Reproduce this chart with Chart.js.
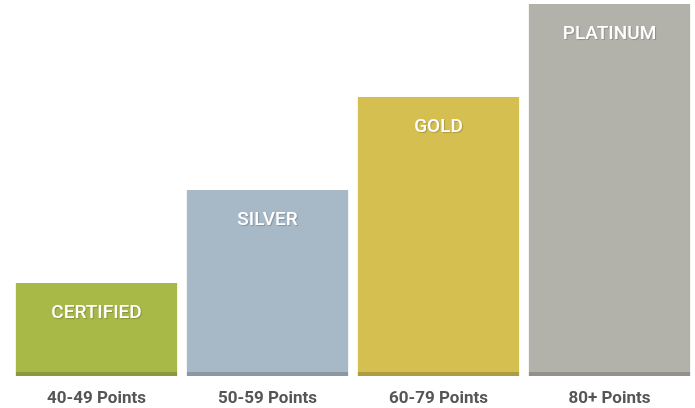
<!DOCTYPE html>
<html>
<head>
<meta charset="utf-8">
<script src="https://cdn.jsdelivr.net/npm/chart.js@4"></script>
<style>
  html, body { margin: 0; padding: 0; background: #fff; }
</style>
</head>
<body>
<canvas id="tierChart" width="695" height="408"></canvas>
<script>
var categories = ["40-49 Points", "50-59 Points", "60-79 Points", "80+ Points"];
var tierNames = ["CERTIFIED", "SILVER", "GOLD", "PLATINUM"];
var tierLevels = [1, 2, 3, 4];
var barColors = ["#a9b947", "#a7b8c6", "#d5bf51", "#b3b2aa"];
var edgeColors = ["#8b993a", "#8a98a4", "#ae9c42", "#92918b"];

// white tier names inside the top of each bar
var tierLabels = {
  id: "tierLabels",
  afterDatasetsDraw: function (chart) {
    var ctx = chart.ctx;
    var meta = chart.getDatasetMeta(0);
    ctx.save();
    ctx.font = "500 19px Roboto, sans-serif";
    ctx.textAlign = "center";
    ctx.textBaseline = "middle";
    ctx.shadowColor = "rgba(0,0,0,0.2)";
    ctx.shadowOffsetX = 1;
    ctx.shadowOffsetY = 1;
    ctx.shadowBlur = 1;
    ctx.fillStyle = "#ffffff";
    meta.data.forEach(function (bar, i) {
      ctx.fillText(tierNames[i], bar.x, bar.y + 30);
    });
    ctx.restore();
  },
};

var ctx = document.getElementById("tierChart").getContext("2d");
var myChart = new Chart(ctx, {
  type: "bar",
  data: {
    labels: categories,
    datasets: [
      {
        data: tierLevels,
        backgroundColor: barColors,
        borderColor: edgeColors,
        borderWidth: { top: 0, left: 0, right: 0, bottom: 4 },
        borderSkipped: false,
        barPercentage: 0.946,
        categoryPercentage: 1,
      },
    ],
  },
  options: {
    responsive: false,
    animation: false,
    layout: {
      padding: { top: 4, left: 11, right: 0, bottom: 1 },
    },
    plugins: {
      legend: { display: false },
      tooltip: { enabled: false },
    },
    scales: {
      y: {
        display: false,
        min: 0,
        max: 4,
      },
      x: {
        grid: { display: false, drawTicks: false },
        border: { display: false },
        afterFit: function (scale) {
          scale.height = 31;
        },
        ticks: {
          color: "#555555",
          padding: 13,
          font: { family: "Roboto, sans-serif", size: 17, weight: "bold" },
        },
      },
    },
  },
  plugins: [tierLabels],
});
</script>
</body>
</html>
